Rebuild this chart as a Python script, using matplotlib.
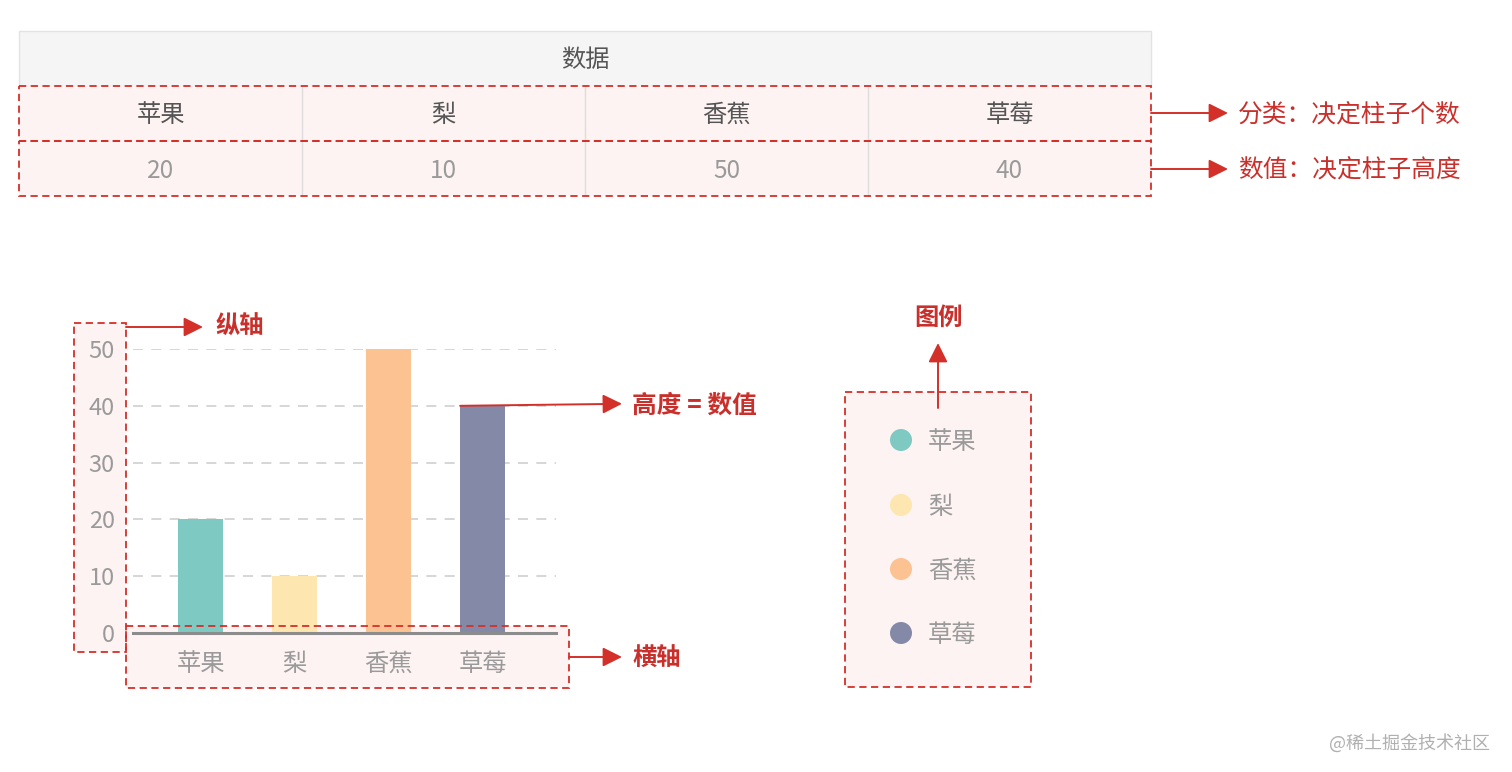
import matplotlib
matplotlib.use('Agg')
import matplotlib.pyplot as plt
from matplotlib.patches import Rectangle, Circle

plt.rcParams['font.family'] = ['Noto Sans CJK SC', 'DejaVu Sans']

# 数据
categories = ['苹果', '梨', '香蕉', '草莓']
values = [20, 10, 50, 40]
colors = ['#7ecac3', '#fde6b0', '#fdc292', '#8489a8']
yticks = [0, 10, 20, 30, 40, 50]
header = '数据'
note_cat = '分类：决定柱子个数'
note_val = '数值：决定柱子高度'

RED = '#d4302a'
TXT_RED = '#c9302c'
PINK = '#fdf3f2'
W, H = 1512, 772
DY = 2  # 中文文字垂直微调

fig = plt.figure(figsize=(W / 100, H / 100), dpi=100)

# 底层：填充
bg = fig.add_axes([0, 0, 1, 1], zorder=0)
bg.set_xlim(0, W)
bg.set_ylim(H, 0)
bg.axis('off')

# 顶层：虚线框、箭头、文字
top = fig.add_axes([0, 0, 1, 1], zorder=3)
top.set_xlim(0, W)
top.set_ylim(H, 0)
top.axis('off')
top.patch.set_alpha(0)


def dashed_box(x0, y0, x1, y1, fill=PINK):
    if fill:
        bg.add_patch(Rectangle((x0, y0), x1 - x0, y1 - y0, facecolor=fill, edgecolor='none'))
    top.add_patch(Rectangle((x0, y0), x1 - x0, y1 - y0, fill=False, edgecolor=RED,
                            linewidth=1.3, linestyle=(0, (4, 2.5))))


def arrow(x0, y0, x1, y1):
    top.annotate('', xy=(x1, y1), xytext=(x0, y0),
                 arrowprops=dict(arrowstyle='-|>,head_length=0.9,head_width=0.45',
                                 color=RED, lw=1.4, mutation_scale=13,
                                 shrinkA=0, shrinkB=0))


# ---- 表格 ----
tx0, tx1 = 19, 1151
colw = (tx1 - tx0) / len(categories)
bg.add_patch(Rectangle((tx0, 31), tx1 - tx0, 55, facecolor='#f5f5f5', edgecolor='#e3e3e3', lw=1))
bg.text((tx0 + tx1) / 2, 58 + DY, header, ha='center', va='center', fontsize=17.5, color='#555555')
for y0, y1 in [(86, 141), (141, 196)]:
    dashed_box(tx0, y0, tx1, y1)
for i in range(1, len(categories)):
    bg.plot([tx0 + i * colw] * 2, [86, 196], color='#dddddd', lw=1)
for i, (c, v) in enumerate(zip(categories, values)):
    cx = tx0 + (i + 0.5) * colw
    bg.text(cx, 113 + DY, c, ha='center', va='center', fontsize=17.5, color='#555555')
    bg.text(cx, 169 + DY, str(v), ha='center', va='center', fontsize=17.5, color='#9a9a9a')

arrow(tx1, 113, 1228, 113)
arrow(tx1, 169, 1228, 169)
top.text(1238, 113 + DY, note_cat, ha='left', va='center', fontsize=17.8, color=TXT_RED)
top.text(1238, 169 + DY, note_val, ha='left', va='center', fontsize=17.8, color=TXT_RED)

# ---- 柱状图 ----
dashed_box(74, 323, 126, 652)
dashed_box(126, 626, 569, 688)

ax = fig.add_axes([133 / W, (H - 633) / H, (556 - 133) / W, (633 - 349) / H], zorder=1)
ax.patch.set_alpha(0)
xs = list(range(len(categories)))
ax.bar(xs, values, width=0.48, color=colors)
ax.set_xlim(-0.72, 3.78)
ax.set_ylim(0, 50)
ax.set_yticks(yticks)
ax.set_xticks(xs)
ax.set_xticklabels(categories)
ax.tick_params(axis='y', length=0, pad=13, labelsize=17, labelcolor='#9a9a9a')
ax.tick_params(axis='x', length=0, pad=13, labelsize=17.5, labelcolor='#9a9a9a')
ax.set_axisbelow(True)
ax.yaxis.grid(True, linestyle=(0, (6, 5)), color='#cfcfcf', linewidth=1.2)
for s in ['top', 'right', 'left']:
    ax.spines[s].set_visible(False)
ax.spines['bottom'].set_color('#8c8c8c')
ax.spines['bottom'].set_linewidth(2.2)

arrow(126, 327, 203, 327)
top.text(215, 325 + DY, '纵轴', ha='left', va='center', fontsize=17.5, fontweight='bold', color=TXT_RED)

# 高度 = 数值：从草莓柱顶左角引出
bar_left = xs[3] - 0.24
px, py = top.transData.inverted().transform(ax.transData.transform((bar_left, values[3])))
top.annotate('', xy=(622, py - 2), xytext=(px, py),
             arrowprops=dict(arrowstyle='-|>,head_length=0.9,head_width=0.45',
                             color=RED, lw=1.4, mutation_scale=13, shrinkA=0, shrinkB=0))
top.text(632, 404 + DY, '高度 = 数值', ha='left', va='center', fontsize=17.8, fontweight='bold', color=TXT_RED)

arrow(569, 657, 622, 657)
top.text(632, 657 + DY, '横轴', ha='left', va='center', fontsize=17.5, fontweight='bold', color=TXT_RED)

# ---- 图例 ----
dashed_box(845, 392, 1031, 687)
arrow(938, 408, 938, 343)
top.text(938, 316 + DY, '图例', ha='center', va='center', fontsize=17.5, fontweight='bold', color=TXT_RED)
leg_y = [440, 505, 569, 633]
for c, col, y in zip(categories, colors, leg_y):
    top.add_patch(Circle((901, y), 11, facecolor=col, edgecolor='none'))
    top.text(928, y + DY, c, ha='left', va='center', fontsize=17.5, color='#9a9a9a')

# 水印
top.text(1490, 741 + DY, '@稀土掘金技术社区', ha='right', va='center', fontsize=13, color='#b0b0b0')

fig.savefig('out.png', dpi=100, facecolor='white')
